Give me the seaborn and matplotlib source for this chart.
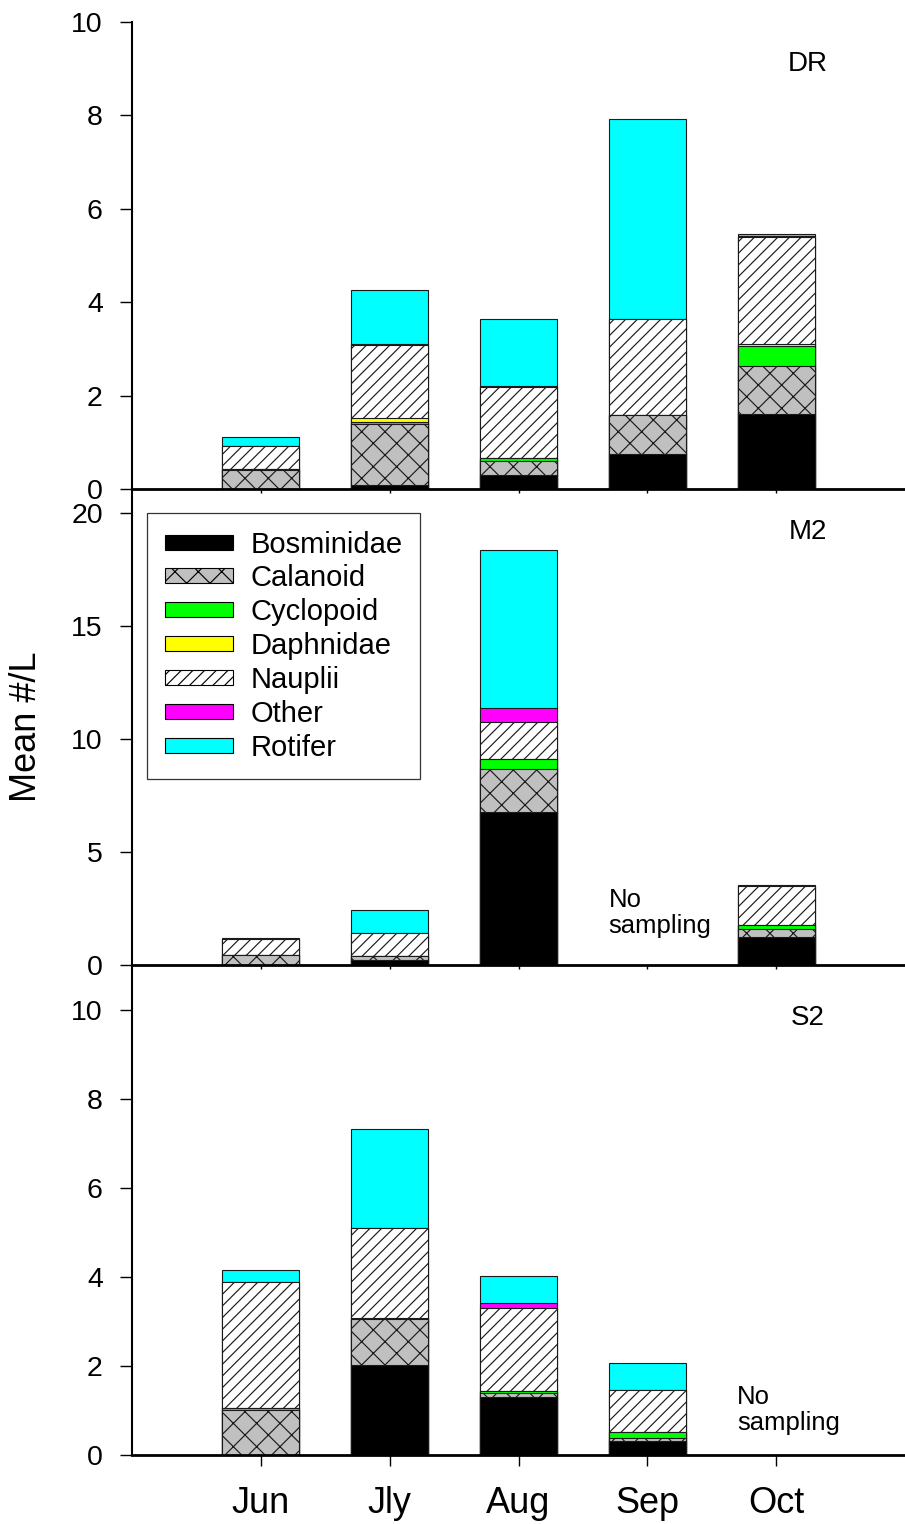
import numpy as np
import pandas as pd
import matplotlib
matplotlib.use("Agg")
import matplotlib.pyplot as plt
from matplotlib.patches import Patch
import seaborn as sns

# ---------------- data ----------------
months = ["Jun", "Jly", "Aug", "Sep", "Oct"]
taxa = ["Bosminidae", "Calanoid", "Cyclopoid", "Daphnidae", "Nauplii", "Other", "Rotifer"]
site_names = ["DR", "M2", "S2"]
nan = np.nan

# DR
dr_bosminidae = [0.00, 0.09, 0.29, 0.76, 1.60]
dr_calanoid   = [0.41, 1.30, 0.30, 0.83, 1.03]
dr_cyclopoid  = [0.01, 0.05, 0.08, 0.00, 0.44]
dr_daphnidae  = [0.00, 0.08, 0.00, 0.00, 0.03]
dr_nauplii    = [0.50, 1.57, 1.51, 2.06, 2.30]
dr_other      = [0.00, 0.02, 0.02, 0.00, 0.01]
dr_rotifer    = [0.20, 1.16, 1.45, 4.28, 0.04]

# M2 (no sampling in Sep)
m2_bosminidae = [0.00, 0.23, 6.77, nan, 1.22]
m2_calanoid   = [0.46, 0.18, 1.90, nan, 0.38]
m2_cyclopoid  = [0.00, 0.00, 0.43, nan, 0.18]
m2_daphnidae  = [0.00, 0.00, 0.00, nan, 0.00]
m2_nauplii    = [0.68, 1.00, 1.65, nan, 1.70]
m2_other      = [0.00, 0.00, 0.62, nan, 0.02]
m2_rotifer    = [0.06, 1.02, 6.99, nan, 0.03]

# S2 (no sampling in Oct)
s2_bosminidae = [0.00, 2.02, 1.30, 0.32, nan]
s2_calanoid   = [1.02, 1.03, 0.09, 0.06, nan]
s2_cyclopoid  = [0.04, 0.00, 0.04, 0.14, nan]
s2_daphnidae  = [0.00, 0.02, 0.00, 0.00, nan]
s2_nauplii    = [2.82, 2.04, 1.87, 0.93, nan]
s2_other      = [0.00, 0.00, 0.11, 0.00, nan]
s2_rotifer    = [0.27, 2.21, 0.61, 0.62, nan]

dr_ticks = [0, 2, 4, 6, 8, 10]
m2_ticks = [0, 5, 10, 15, 20]
s2_ticks = [0, 2, 4, 6, 8, 10]

# ---------------- styles ----------------
face_colors = ["#000000", "#C0C0C0", "#00FF00", "#FFFF00", "#FFFFFF", "#FF00FF", "#00FFFF"]
hatches = [None, "xx", None, None, "////", None, None]

DPI = 140
k = 100.0 / DPI  # sizes below were tuned in "points at 100 dpi"

sns.set_style("ticks")
plt.rcParams["font.family"] = ["Liberation Sans", "DejaVu Sans"]
plt.rcParams["hatch.linewidth"] = 0.6
for key in ["text.color", "axes.labelcolor", "xtick.color", "ytick.color", "axes.edgecolor"]:
    plt.rcParams[key] = "black"

site_data = {
    "DR": [dr_bosminidae, dr_calanoid, dr_cyclopoid, dr_daphnidae, dr_nauplii, dr_other, dr_rotifer],
    "M2": [m2_bosminidae, m2_calanoid, m2_cyclopoid, m2_daphnidae, m2_nauplii, m2_other, m2_rotifer],
    "S2": [s2_bosminidae, s2_calanoid, s2_cyclopoid, s2_daphnidae, s2_nauplii, s2_other, s2_rotifer],
}
site_ticks = {"DR": dr_ticks, "M2": m2_ticks, "S2": s2_ticks}
site_ylim = {"DR": 10.0, "M2": 21.06, "S2": 11.01}

W, H = 905, 1524
fig = plt.figure(figsize=(W / DPI, H / DPI), dpi=DPI)
fig.patch.set_facecolor("white")

left_px, right_px = 132, 905
panel_px = {"DR": (22, 489), "M2": (489, 965), "S2": (965, 1455)}
label_ypx = {"DR": 64, "M2": 532, "S2": 1018}

axes = {}
for site in site_names:
    top, bot = panel_px[site]
    ax = fig.add_axes([left_px / W, 1 - bot / H, (right_px - left_px) / W, (bot - top) / H])
    ax.set_facecolor("none")
    axes[site] = ax

    df = pd.DataFrame({t: v for t, v in zip(taxa, site_data[site])})
    cum = df[taxa].cumsum(axis=1, skipna=False)
    cum.insert(0, "month", months)

    for i in reversed(range(len(taxa))):
        t = taxa[i]
        kw = dict(data=cum, x="month", y=t, order=months, color=face_colors[i],
                  saturation=1, errorbar=None, width=0.6, ax=ax,
                  edgecolor="#1a1a1a", linewidth=0.8 * k)
        if hatches[i]:
            kw["hatch"] = hatches[i]
        sns.barplot(**kw)

    ax.set_xlim(-1, 5)
    ax.set_ylim(0, site_ylim[site])
    ax.set_yticks(site_ticks[site])
    ax.set_yticklabels([str(v) for v in site_ticks[site]])
    ax.set_xlabel("")
    ax.set_ylabel("")
    for s in ["top", "right"]:
        ax.spines[s].set_visible(False)
    ax.spines["left"].set_linewidth(1.5 * k)
    ax.spines["bottom"].set_linewidth(2.0 * k)
    ax.tick_params(axis="y", direction="out", length=9 * k, width=1 * k, pad=12 * k,
                   labelsize=20.5 * k)
    if site == "S2":
        ax.tick_params(axis="x", direction="out", length=8 * k, width=1 * k, pad=14 * k,
                       labelsize=26 * k)
    else:
        ax.tick_params(axis="x", direction="out", length=3 * k, width=1 * k, labelbottom=False)

    ax.text((808 - left_px) / (right_px - left_px), (bot - label_ypx[site]) / (bot - top), site,
            transform=ax.transAxes, ha="center", va="center", fontsize=20 * k)

# "No sampling" notes
axes["M2"].text(2.70, 3.40, "No\nsampling", ha="left", va="top", fontsize=18.5 * k, linespacing=1.1)
axes["S2"].text(3.695, 1.57, "No\nsampling", ha="left", va="top", fontsize=18.5 * k, linespacing=1.1)

# legend
handles = [Patch(facecolor=face_colors[i], edgecolor="black", hatch=hatches[i], linewidth=0.8 * k,
                 label=taxa[i]) for i in range(len(taxa))]
leg = axes["M2"].legend(handles=handles, loc="upper left",
                        bbox_to_anchor=(147 / W, 1 - 513 / H), bbox_transform=fig.transFigure,
                        fontsize=21 * k, frameon=True, fancybox=False, edgecolor="black",
                        handlelength=2.35, handleheight=0.42, handletextpad=0.6,
                        labelspacing=0.2, borderpad=0.6, borderaxespad=0)
leg.get_frame().set_linewidth(0.9 * k)

fig.text(27 / W, 1 - 727 / H, "Mean #/L", rotation=90, ha="center", va="center", fontsize=26 * k)

fig.savefig("out.png", dpi=DPI, facecolor="white")
